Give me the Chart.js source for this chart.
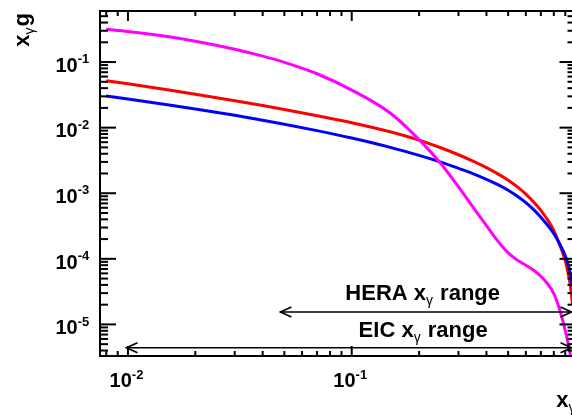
<!DOCTYPE html>
<html>
<head>
<meta charset="utf-8">
<script src="https://cdn.jsdelivr.net/npm/chart.js@4/dist/chart.umd.min.js"></script>
<style>
html,body{margin:0;padding:0;overflow:hidden;background:#fff;width:572px;height:415px}
#wrap{width:600px;height:415px;position:relative}
canvas{display:block}
</style>
</head>
<body>
<div id="wrap"><canvas id="c" width="600" height="415"></canvas></div>
<script>
// ---- data ----
const xGamma = [0.008, 0.01, 0.015, 0.02, 0.03, 0.04, 0.05, 0.07, 0.1, 0.15, 0.2, 0.25, 0.3, 0.35, 0.4, 0.45, 0.5, 0.55, 0.6, 0.65, 0.7, 0.75, 0.8, 0.85, 0.9, 0.93, 0.95, 0.97];
const gluonRed = [0.0519, 0.0465, 0.0377, 0.0323, 0.0257, 0.0217, 0.0189, 0.0152, 0.0119, 0.00857, 0.00645, 0.00494, 0.00386, 0.00306, 0.00246, 0.00197, 0.00158, 0.00125, 0.000969, 0.000734, 0.000549, 0.000394, 0.000270, 0.000163, 9.32e-5, 5.72e-5, 3.75e-5, 2.00e-5];
const gluonBlue = [0.0303, 0.0273, 0.0223, 0.0192, 0.0154, 0.0130, 0.0113, 0.00900, 0.00694, 0.00496, 0.00377, 0.00298, 0.00240, 0.00198, 0.00163, 0.00135, 0.00111, 0.000897, 0.000717, 0.000562, 0.000432, 0.000325, 0.000242, 0.000169, 0.000111, 7.82e-5, 5.78e-5, 3.80e-5];
const gluonMagenta = [0.316, 0.293, 0.245, 0.208, 0.157, 0.123, 0.0989, 0.0663, 0.0374, 0.0163, 0.00657, 0.00284, 0.00125, 0.000599, 0.000321, 0.000186, 0.000123, 9.55e-5, 7.99e-5, 6.71e-5, 5.43e-5, 4.17e-5, 2.94e-5, 1.67e-5, 8.02e-6, 4.82e-6, 3.33e-6, 2.19e-6];

const xLabelValues = [0.01, 0.1];
const xLabelExponents = ['-2', '-1'];
const yLabelValues = [1e-5, 1e-4, 1e-3, 1e-2, 1e-1];
const yLabelExponents = ['-5', '-4', '-3', '-2', '-1'];
const xMajorTicks = [0.01, 0.1, 1];
const yMajorTicks = [1e-5, 1e-4, 1e-3, 1e-2, 1e-1];

const heraRange = [0.048, 0.96];
const eicRange = [0.00985, 0.96];
const heraArrowY = 1.55e-5;
const eicArrowY = 4.4e-6;
const heraText = ['HERA x', 'γ', ' range'];
const eicText = ['EIC x', 'γ', ' range'];
const heraTextPos = [0.2075, 2.32e-5];
const eicTextPos = [0.2085, 6.43e-6];
const yTitle = ['x', 'γ', 'g'];
const xTitle = ['x', 'γ'];

const X_MIN = 0.0075, X_MAX = 1, Y_MIN = 3.3e-6, Y_MAX = 0.6;

const FONT = '"Liberation Sans", Arial, Helvetica, sans-serif';

function minorTicks(lo, hi) {
  const out = [];
  for (let e = Math.floor(Math.log10(lo)); e <= Math.ceil(Math.log10(hi)); e++) {
    for (let k = 2; k <= 9; k++) {
      const v = k * Math.pow(10, e);
      if (v > lo * 1.0001 && v < hi * 0.9999) out.push(v);
    }
  }
  return out;
}

function drawRich(ctx, parts, x, y, align) {
  let w = 0;
  parts.forEach(p => { ctx.font = p.font; p.w = ctx.measureText(p.t).width + (p.gap || 0); w += p.w; });
  let cx = align === 'center' ? x - w / 2 : (align === 'right' ? x - w : x);
  ctx.textAlign = 'left';
  ctx.textBaseline = 'alphabetic';
  parts.forEach(p => { ctx.font = p.font; ctx.fillText(p.t, cx, y + (p.dy || 0)); cx += p.w; });
}

function line(ctx, x1, y1, x2, y2) {
  ctx.beginPath(); ctx.moveTo(x1, y1); ctx.lineTo(x2, y2); ctx.stroke();
}

function arrow(ctx, xs, ys, range, yv) {
  const x1 = xs.getPixelForValue(range[0]);
  const x2 = xs.getPixelForValue(range[1]);
  const y = ys.getPixelForValue(yv);
  ctx.lineWidth = 1.6;
  line(ctx, x1, y, x2, y);
  ctx.beginPath();
  ctx.moveTo(x1 + 11, y - 5); ctx.lineTo(x1, y); ctx.lineTo(x1 + 11, y + 5);
  ctx.moveTo(x2 - 11, y - 5); ctx.lineTo(x2, y); ctx.lineTo(x2 - 11, y + 5);
  ctx.stroke();
}

const rootStyle = {
  id: 'rootStyle',
  afterDatasetsDraw(chart) {
    const ctx = chart.ctx;
    const xs = chart.scales.x, ys = chart.scales.y;
    const { left: L, right: R, top: T, bottom: B } = chart.chartArea;
    ctx.save();
    ctx.strokeStyle = '#000';
    ctx.fillStyle = '#000';
    ctx.lineCap = 'butt';

    arrow(ctx, xs, ys, heraRange, heraArrowY);
    arrow(ctx, xs, ys, eicRange, eicArrowY);

    ctx.lineWidth = 2;
    ctx.strokeRect(L, T, R - L, B - T);

    xMajorTicks.forEach(v => {
      const p = xs.getPixelForValue(v);
      line(ctx, p, B, p, B - 10); line(ctx, p, T, p, T + 10);
    });
    minorTicks(X_MIN, X_MAX).forEach(v => {
      const p = xs.getPixelForValue(v);
      line(ctx, p, B, p, B - 5); line(ctx, p, T, p, T + 5);
    });
    yMajorTicks.forEach(v => {
      const p = ys.getPixelForValue(v);
      line(ctx, L, p, L + 16, p); line(ctx, R, p, R - 16, p);
    });
    minorTicks(Y_MIN, Y_MAX).forEach(v => {
      const p = ys.getPixelForValue(v);
      line(ctx, L, p, L + 8, p); line(ctx, R, p, R - 8, p);
    });

    const big = 'bold 20px ' + FONT;
    const sup = 'bold 13px ' + FONT;
    yLabelValues.forEach((v, i) => {
      const p = ys.getPixelForValue(v);
      drawRich(ctx, [{ t: '10', font: big }, { t: yLabelExponents[i], font: sup, dy: -8.5 }], 55.5, p + 9.7, 'left');
    });
    xLabelValues.forEach((v, i) => {
      const p = xs.getPixelForValue(v);
      drawRich(ctx, [{ t: '10', font: big }, { t: xLabelExponents[i], font: sup, dy: -8.5 }], p - 1.5, 387, 'center');
    });

    const tfont = 'bold 22px ' + FONT;
    const gfont = '14px ' + FONT;
    [[heraText, heraTextPos], [eicText, eicTextPos]].forEach(([txt, pos]) => {
      const px = xs.getPixelForValue(pos[0]);
      const py = ys.getPixelForValue(pos[1]);
      drawRich(ctx, [{ t: txt[0], font: tfont }, { t: txt[1], font: gfont, dy: 5, gap: 1 }, { t: txt[2], font: tfont }], px, py, 'center');
    });

    drawRich(ctx, [{ t: xTitle[0], font: tfont }, { t: xTitle[1], font: gfont, dy: 5 }], R, 407, 'right');

    ctx.save();
    ctx.translate(28.5, T + 2);
    ctx.rotate(-Math.PI / 2);
    drawRich(ctx, [{ t: yTitle[0], font: tfont }, { t: yTitle[1], font: gfont, dy: 5, gap: 1 }, { t: yTitle[2], font: tfont }], 0, 0, 'right');
    ctx.restore();

    ctx.restore();
  }
};

function pts(ys) { return xGamma.map((x, i) => ({ x: x, y: ys[i] })); }

new Chart(document.getElementById('c'), {
  type: 'line',
  data: {
    datasets: [
      { label: 'magenta', data: pts(gluonMagenta), borderColor: '#ff00ff' },
      { label: 'blue', data: pts(gluonBlue), borderColor: '#0000ff' },
      { label: 'red', data: pts(gluonRed), borderColor: '#ff0000' }
    ]
  },
  options: {
    responsive: false,
    animation: false,
    devicePixelRatio: 1,
    layout: { padding: { left: 0, top: 11, right: 24.5, bottom: 0 } },
    plugins: { legend: { display: false }, tooltip: { enabled: false } },
    elements: {
      point: { radius: 0 },
      line: { borderWidth: 3, cubicInterpolationMode: 'monotone', fill: false }
    },
    scales: {
      x: {
        type: 'logarithmic', min: X_MIN, max: X_MAX,
        grid: { display: false }, border: { display: false },
        ticks: { display: false },
        afterFit(s) { s.height = 59; }
      },
      y: {
        type: 'logarithmic', min: Y_MIN, max: Y_MAX,
        grid: { display: false }, border: { display: false },
        ticks: { display: false },
        afterFit(s) { s.width = 100; }
      }
    }
  },
  plugins: [rootStyle]
});
</script>
</body>
</html>
